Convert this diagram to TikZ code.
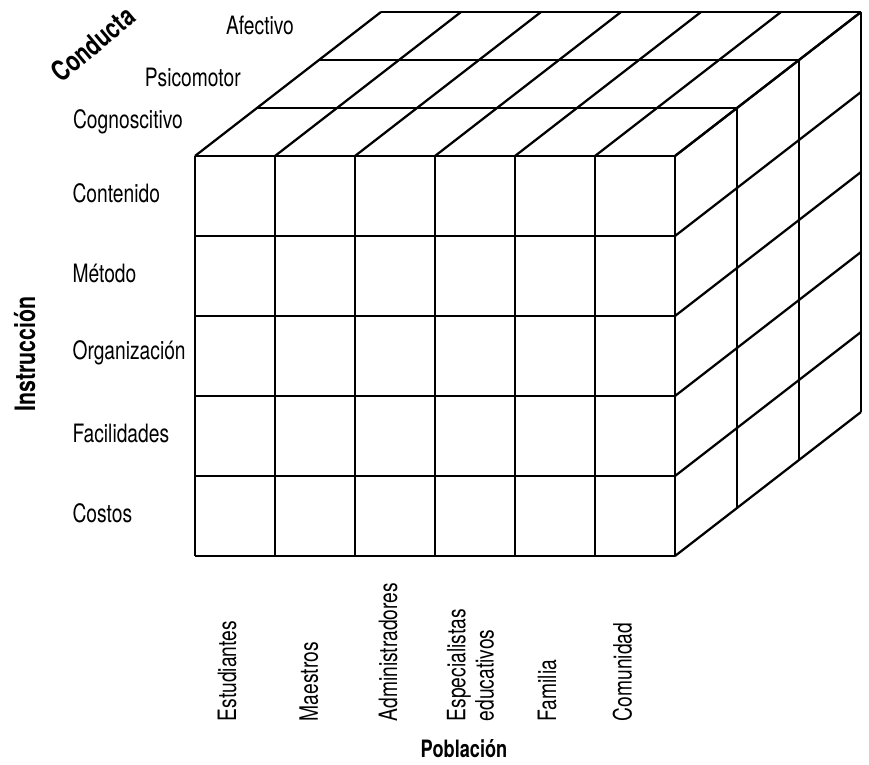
\documentclass[tikz,border=0pt]{standalone}
\usepackage{fontspec}
\setmainfont{TeX Gyre Heros}[FakeStretch=0.76]
\usepackage{tikz}

\begin{document}
\begin{tikzpicture}[
  % cube lines and label styles
  edge/.style={draw=black,line width=0.8pt,line join=round},
  lbl/.style={font=\fontsize{9}{10}\selectfont,inner sep=0pt},
  axislbl/.style={font=\bfseries\fontsize{10}{11}\selectfont,inner sep=0pt}
]
\useasboundingbox (0,0) rectangle (10.8625,9.5625);

\def\dx{0.775}  % depth step
\def\dy{0.6}

\begin{scope}[shift={(2.4375,2.6125)}]
% front face
\draw[edge] (0,0) grid (6,5);
% top face
\foreach \k in {1,2,3}
  \draw[edge] (\k*\dx,5+\k*\dy) -- (6+\k*\dx,5+\k*\dy);
\foreach \i in {0,...,6}
  \draw[edge] (\i,5) -- ++(3*\dx,3*\dy);
% right face
\foreach \k in {1,2,3}
  \draw[edge] (6+\k*\dx,\k*\dy) -- (6+\k*\dx,5+\k*\dy);
\foreach \j in {0,...,5}
  \draw[edge] (6,\j) -- ++(3*\dx,3*\dy);
\end{scope}

% conducta (depth)
\node[lbl] (afe) at (3.25,9.25)    {Afectivo};
\node[lbl] (psi) at (2.41,8.59)    {Psicomotor};
\node[lbl] (cog) at (1.6,8.04)     {Cognoscitivo};
\node[axislbl,rotate=40] (cond) at (1.16,9.01) {Conducta};

% instruccion (rows)
\foreach \t [count=\n] in {Contenido,Método,Organización,Facilidades,Costos}
  \node[lbl,anchor=west] (row\n) at (0.9,{8.15-\n}) {\t};
\node[axislbl,rotate=90] (inst) at (0.31,5.14) {Instrucción};

% poblacion (columns)
\node[lbl,rotate=90,anchor=west] (est) at (2.84,0.54) {Estudiantes};
\node[lbl,rotate=90,anchor=west] (mae) at (3.86,0.54) {Maestros};
\node[lbl,rotate=90,anchor=west] (adm) at (4.85,0.54) {Administradores};
\node[lbl,rotate=90,anchor=west,align=left] (esp) at (5.88,0.54) {Especialistas\\educativos};
\node[lbl,rotate=90,anchor=west] (fam) at (6.84,0.54) {Familia};
\node[lbl,rotate=90,anchor=west] (com) at (7.78,0.54) {Comunidad};
\node[axislbl,font=\bfseries\fontsize{8.5}{10}\selectfont] (pob) at (5.8,0.2) {Población};

\end{tikzpicture}
\end{document}
